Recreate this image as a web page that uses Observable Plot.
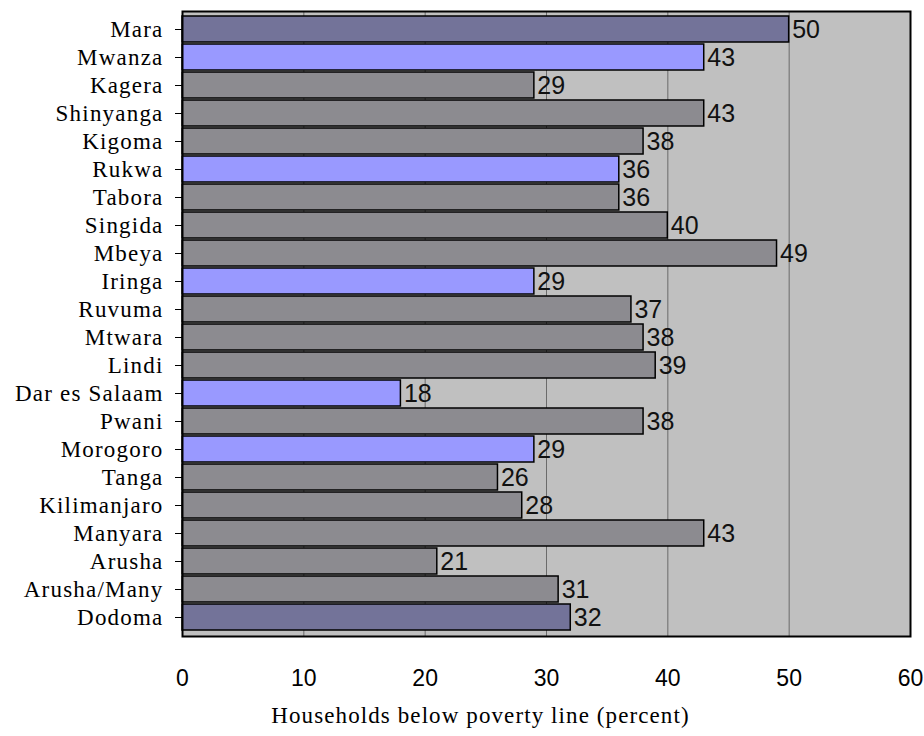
<!DOCTYPE html>
<html>
<head>
<meta charset="utf-8">
<script src="https://cdn.jsdelivr.net/npm/d3@7"></script>
<script src="https://cdn.jsdelivr.net/npm/@observablehq/plot@0.6"></script>
<style>
  html, body { margin: 0; padding: 0; background: #fff; }
</style>
</head>
<body>
<div id="chart"></div>
<script>
// Regions, top to bottom
const regions = [
  "Mara", "Mwanza", "Kagera", "Shinyanga", "Kigoma", "Rukwa", "Tabora",
  "Singida", "Mbeya", "Iringa", "Ruvuma", "Mtwara", "Lindi", "Dar es Salaam",
  "Pwani", "Morogoro", "Tanga", "Kilimanjaro", "Manyara", "Arusha",
  "Arusha/Many", "Dodoma"
];
// Share of households below the poverty line (percent)
const poverty = [
  50, 43, 29, 43, 38, 36, 36,
  40, 49, 29, 37, 38, 39, 18,
  38, 29, 26, 28, 43, 21,
  31, 32
];
// Bar group: "total" (dark slate), "highlight" (light blue), "region" (grey)
const group = [
  "total", "highlight", "region", "region", "region", "highlight", "region",
  "region", "region", "highlight", "region", "region", "region", "highlight",
  "region", "highlight", "region", "region", "region", "region",
  "region", "total"
];
const xTicks = [0, 10, 20, 30, 40, 50, 60];
const xTitle = "Households below poverty line (percent)";

const rows = regions.map((r, i) => ({region: r, value: poverty[i], group: group[i]}));

const serif = "'Liberation Serif', 'Times New Roman', serif";

const chart = Plot.plot({
  width: 924,
  height: 736,
  marginTop: 11,
  marginBottom: 100,
  marginLeft: 182,
  marginRight: 14,
  style: {fontFamily: "'Liberation Sans', Arial, sans-serif", background: "#fff"},
  x: {domain: [0, 60], ticks: xTicks},
  y: {domain: regions, padding: 0.06},
  color: {
    domain: ["total", "highlight", "region"],
    range: ["#737399", "#9999FF", "#8C8B90"]
  },
  marks: [
    Plot.frame({fill: "#C0C0C0"}),
    Plot.gridX(xTicks.filter(t => t > 0 && t < 60), {stroke: "#555", strokeOpacity: 0.8, strokeWidth: 1}),
    Plot.barX(rows, {
      x: "value", y: "region", fill: "group",
      stroke: "#000", strokeWidth: 1.5
    }),
    Plot.text(rows, {
      x: "value", y: "region", text: d => String(d.value),
      textAnchor: "start", dx: 3, fontSize: 25, fill: "#111"
    }),
    Plot.frame({stroke: "#000", strokeWidth: 2}),
    Plot.axisX({
      ticks: xTicks, tickSize: 0, tickPadding: 33, fontSize: 23,
      tickFormat: d => String(d), label: null
    }),
    Plot.axisY({
      tickSize: 7, tickPadding: 12, fontSize: 23,
      fontFamily: serif, label: null
    }),
    Plot.text([xTitle], {
      frameAnchor: "bottom", dy: 86, dx: -66,
      fontSize: 23, fontFamily: serif, fill: "#000"
    })
  ]
});

// Slightly looser tracking for the serif lettering
chart.querySelectorAll("[aria-label='y-axis tick label'] text").forEach(t => {
  t.style.letterSpacing = "1.2px";
});
[...chart.querySelectorAll("text")].filter(t => t.textContent === xTitle).forEach(t => {
  t.style.letterSpacing = "1.1px";
});

document.getElementById("chart").appendChild(chart);
</script>
</body>
</html>
